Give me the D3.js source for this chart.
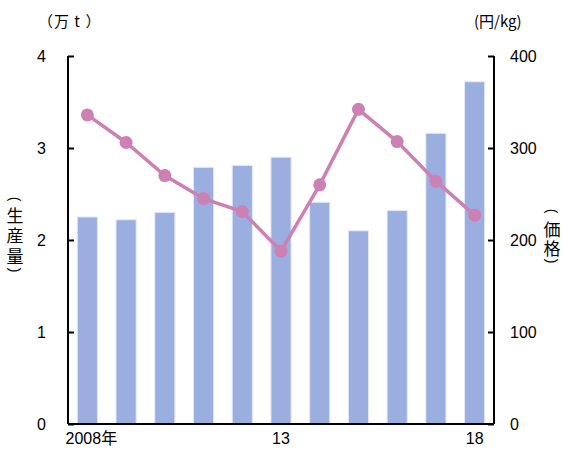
<!DOCTYPE html>
<html>
<head>
<meta charset="utf-8">
<script src="https://cdn.jsdelivr.net/npm/d3@7"></script>
<style>
  body { margin: 0; background: #fff; }
  text { font-family: "Liberation Sans Narrow", "Liberation Sans", "Noto Sans CJK JP", sans-serif; }
  .cjk { font-family: "Noto Sans CJK JP", sans-serif; }
  .paren { font-family: "Liberation Sans", sans-serif; }
</style>
</head>
<body>
<div id="chart"></div>
<script>
// years (labels shown only on some)
const years = ["2008", "09", "10", "11", "12", "13", "14", "15", "16", "17", "18"];
const yearLabels = {"2008": "2008年", "13": "13", "18": "18"};
// production (万t)
const production = [2.25, 2.22, 2.30, 2.79, 2.81, 2.90, 2.41, 2.10, 2.32, 3.16, 3.72];
// price (円/kg)
const price = [336, 306, 270, 245, 231, 188, 260, 342, 307, 264, 227];
const leftTicks = [0, 1, 2, 3, 4];
const rightTicks = [0, 100, 200, 300, 400];

const W = 563, H = 453;
const margin = {top: 56, right: 69, bottom: 29, left: 68};
const width = W - margin.left - margin.right;
const height = H - margin.top - margin.bottom;

const svg = d3.select("#chart").append("svg")
  .attr("width", W)
  .attr("height", H);

const g = svg.append("g")
  .attr("transform", `translate(${margin.left},${margin.top})`);

const x = d3.scaleBand()
  .domain(years)
  .range([0, width])
  .paddingInner(0.48)
  .paddingOuter(0.24);

const yL = d3.scaleLinear().domain([0, 4]).range([height, 0]);
const yR = d3.scaleLinear().domain([0, 400]).range([height, 0]);

// bars
g.selectAll(".bar")
  .data(production)
  .enter().append("rect")
  .attr("class", "bar")
  .attr("x", (d, i) => x(years[i]))
  .attr("y", d => yL(d))
  .attr("width", x.bandwidth())
  .attr("height", d => height - yL(d))
  .attr("fill", "#9baee0")
  .attr("stroke", "#e3e8f7")
  .attr("stroke-width", 1);

// price line
const line = d3.line()
  .x((d, i) => x(years[i]) + x.bandwidth() / 2)
  .y(d => yR(d));

g.append("path")
  .datum(price)
  .attr("fill", "none")
  .attr("stroke", "#cc80b4")
  .attr("stroke-width", 3.5)
  .attr("d", line);

g.selectAll(".dot")
  .data(price)
  .enter().append("circle")
  .attr("class", "dot")
  .attr("cx", (d, i) => x(years[i]) + x.bandwidth() / 2)
  .attr("cy", d => yR(d))
  .attr("r", 6.5)
  .attr("fill", "#cc80b4");

// axes
const leftAxis = g.append("g")
  .call(d3.axisLeft(yL).tickValues(leftTicks).tickSize(-6).tickPadding(22).tickFormat(d3.format("d")));
const rightAxis = g.append("g")
  .attr("transform", `translate(${width},0)`)
  .call(d3.axisRight(yR).tickValues(rightTicks).tickSize(-6).tickPadding(22).tickFormat(d3.format("d")));
const bottomAxis = g.append("g")
  .attr("transform", `translate(0,${height})`)
  .call(d3.axisBottom(x).tickSize(0).tickPadding(9).tickFormat(d => yearLabels[d] || ""));

[leftAxis, rightAxis, bottomAxis].forEach(a => {
  a.select(".domain").attr("stroke", "#000").attr("stroke-width", 2);
  a.selectAll(".tick line").attr("stroke", "#000").attr("stroke-width", 2);
  a.selectAll("text").attr("font-size", 16).attr("fill", "#000")
    .style("font-family", '"Liberation Sans Narrow", "Liberation Sans", "Noto Sans CJK JP", sans-serif');
});
leftAxis.select(".domain").attr("d", `M0,${height}V0`);
rightAxis.select(".domain").attr("d", `M0,${height}V0`);
bottomAxis.select(".domain").attr("d", `M0,0H${width}`);
rightAxis.selectAll(".tick text").attr("x", 16).attr("text-anchor", "start");
leftAxis.selectAll(".tick text").attr("x", -22);
bottomAxis.selectAll(".tick text").attr("dx", (d) => d === "2008" ? 4 : 0);

// unit labels
svg.append("text")
  .attr("class", "cjk")
  .attr("x", 38).attr("y", 27)
  .attr("font-size", 15)
  .attr("letter-spacing", 1)
  .text("（万 t ）");

svg.append("text")
  .attr("class", "cjk")
  .attr("x", 474).attr("y", 27)
  .attr("font-size", 15)
  .text("(円/kg)");

// vertical axis titles: [char, y]
const leftTitle = [["(", 199], ["生", 214], ["産", 234], ["量", 255], [")", 270]];
const rightTitle = [["(", 211], ["価", 228], ["格", 247], [")", 261]];

function drawVertical(items, cx) {
  items.forEach(([ch, cy]) => {
    const paren = ch === "(" || ch === ")";
    svg.append("text")
      .attr("class", paren ? "paren" : "cjk")
      .attr("x", cx)
      .attr("y", cy)
      .attr("text-anchor", "middle")
      .attr("dominant-baseline", "central")
      .attr("font-size", paren ? 14 : 17)
      .attr("transform", paren ? `rotate(90,${cx},${cy})` : null)
      .text(ch);
  });
}
drawVertical(leftTitle, 15);
drawVertical(rightTitle, 552);
</script>
</body>
</html>
